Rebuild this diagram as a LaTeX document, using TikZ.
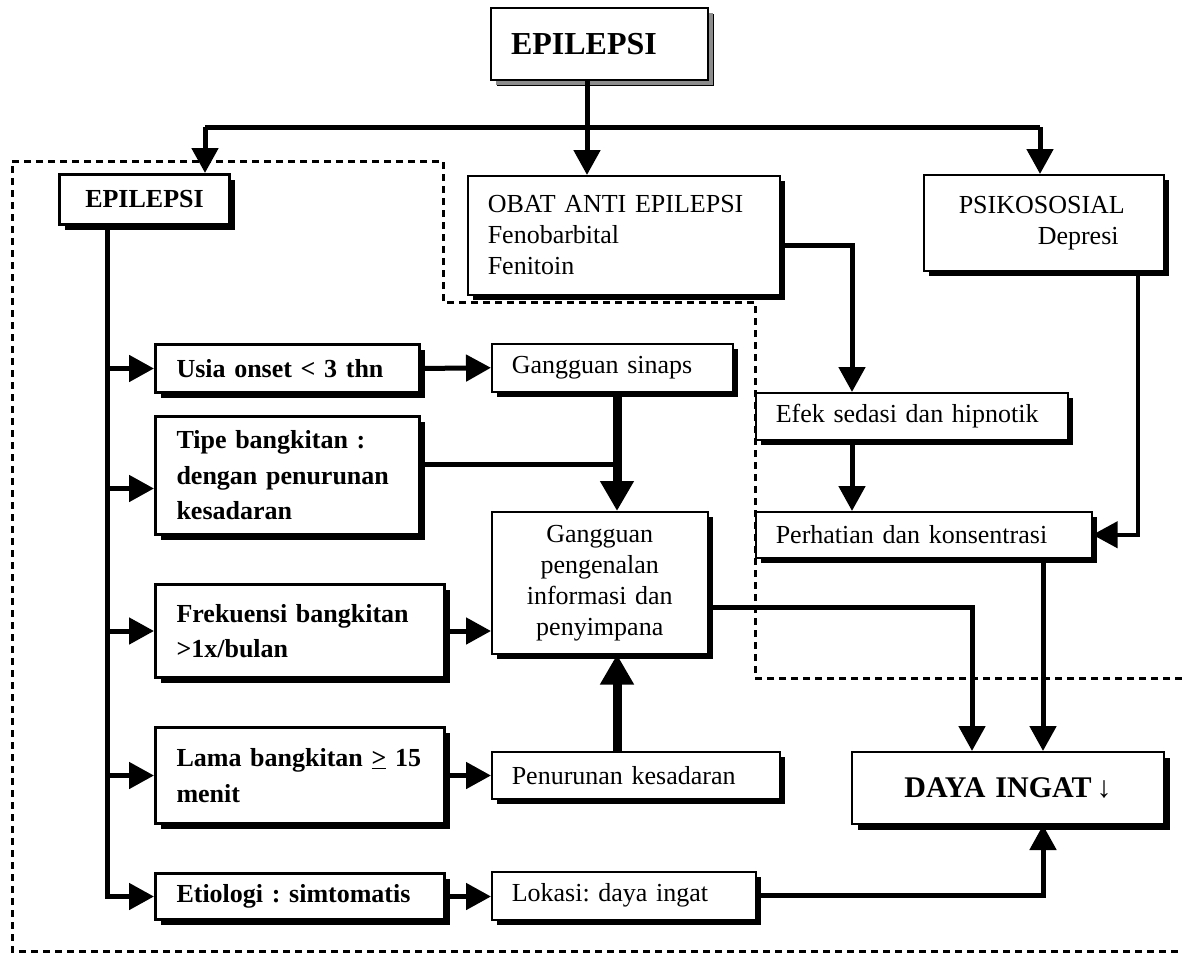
\documentclass[tikz,border=0pt]{standalone}
\usepackage{fontspec}
\setmainfont{Liberation Serif}
\usetikzlibrary{arrows.meta,shadows,calc}
\newcommand\txtn{\frenchspacing\fontsize{26}{31}\selectfont}
\newcommand\txtb{\frenchspacing\fontsize{26}{35.5}\selectfont\bfseries}
\begin{document}
\begin{tikzpicture}[x=1pt,y=-1pt,
  box/.style={draw, fill=white, line width=1.5pt, anchor=north west, inner ysep=0pt,
    drop shadow={shadow xshift=5.5pt, shadow yshift=-5.5pt, fill=black, opacity=1}},
  boldbox/.style={box, line width=3pt, font=\txtb, align=left},
  normbox/.style={box, font=\txtn, align=left},
  conn/.style={line width=5pt},
  arr/.style={conn, -{Triangle[length=25pt,width=26pt]}},
  bigarr/.style={line width=9pt, -{Triangle[length=30pt,width=32pt]}},
  region/.style={line width=3pt, dash pattern=on 7pt off 5pt}
]
\useasboundingbox (0,0) rectangle (1182,953);

% dashed region
\draw[region] (1182,678) -- (755,678) -- (755,302) -- (443,302) -- (443,161) -- (12,161) -- (12,951) -- (1182,951);

% top node
\node[box, line width=2pt, drop shadow={shadow xshift=5pt, shadow yshift=-5pt, fill=black!45, opacity=1},
  minimum width=217pt, minimum height=72pt, text width=177pt, inner xsep=20pt, align=left,
  font=\fontsize{32}{36}\selectfont\bfseries] (top) at (490,7) {EPILEPSI};

% left column
\node[boldbox, minimum width=170pt, minimum height=50pt, text width=128pt, inner xsep=21pt, align=center] (epi) at (58,173) {EPILEPSI};
\node[boldbox, minimum width=264pt, minimum height=48pt, text width=222pt, inner xsep=21pt] (usia) at (154,343) {Usia onset < 3 thn};
\node[boldbox, minimum width=264pt, minimum height=118pt, text width=222pt, inner xsep=21pt] (tipe) at (154,415) {Tipe bangkitan :\\dengan penurunan\\kesadaran};
\node[boldbox, minimum width=289pt, minimum height=93pt, text width=247pt, inner xsep=21pt] (frek) at (154,583) {Frekuensi bangkitan\\>1x/bulan};
\node[boldbox, minimum width=289pt, minimum height=96pt, text width=247pt, inner xsep=21pt] (lama) at (154,726) {Lama bangkitan \underline{>} 15\\menit};
\node[boldbox, minimum width=289pt, minimum height=46pt, text width=247pt, inner xsep=21pt] (etio) at (154,872) {Etiologi : simtomatis};

% middle column
\node[normbox, minimum width=312pt, minimum height=119pt, text width=272pt, inner xsep=20pt] (obat) at (467,175) {OBAT ANTI EPILEPSI\\Fenobarbital\\Fenitoin};
\node[normbox, minimum width=241pt, minimum height=48pt, text width=201pt, inner xsep=20pt] (sinaps) at (491,343) {Gangguan sinaps};
\node[normbox, minimum width=216pt, minimum height=142pt, text width=196pt, inner xsep=10pt, align=center] (peng) at (491,511) {Gangguan\\pengenalan\\informasi dan\\penyimpana};
\node[normbox, minimum width=288pt, minimum height=47pt, text width=248pt, inner xsep=20pt] (penur) at (491,751) {Penurunan kesadaran};
\node[normbox, minimum width=264pt, minimum height=48pt, text width=224pt, inner xsep=20pt] (lokasi) at (491,871) {Lokasi: daya ingat};

% right column
\node[normbox, minimum width=240pt, minimum height=96pt, text width=170pt, inner xsep=35pt] (psiko) at (923,174) {PSIKOSOSIAL\\\hspace*{79pt}Depresi};
\node[normbox, minimum width=312pt, minimum height=47pt, text width=272pt, inner xsep=20pt] (efek) at (755,392) {Efek sedasi dan hipnotik};
\node[normbox, minimum width=336pt, minimum height=46pt, text width=296pt, inner xsep=20pt] (perh) at (755,511) {Perhatian dan konsentrasi};
\node[box, line width=2pt, minimum width=312pt, minimum height=72pt, text width=292pt, inner xsep=10pt, align=center,
  font=\frenchspacing\fontsize{30}{34}\selectfont\bfseries] (daya) at (851,751) {DAYA INGAT\,↓};

% helper coordinates
\coordinate (hub) at (587,127);
\coordinate (bl) at (205,127);
\coordinate (br) at (1040,127);
\coordinate (tk) at (107,0);
\coordinate (vx) at (617,0);
\coordinate (ex) at (852,0);
\coordinate (dl) at (972,0);
\coordinate (dr) at (1043,0);
\coordinate (px) at (1138,0);
\coordinate (tipein) at ($(tipe.west)+(0,13)$);
\coordinate (tipeout) at ($(tipe.east)+(0,-11)$);
\coordinate (pengout) at ($(peng.east)+(0,25)$);
\coordinate (obatout) at ($(obat.east)+(0,10)$);

% top distribution
\draw[conn] (top.south -| hub) -- (hub);
\draw[conn] (bl) -- (br);
\draw[arr] (bl) -- (bl |- epi.north);
\draw[arr] (hub) -- (hub |- obat.north);
\draw[arr] (br) -- (br |- psiko.north);

% trunk
\draw[arr] (epi.south -| tk) |- (etio.west);
\draw[arr] (usia.west -| tk) -- (usia.west);
\draw[arr] (tipein -| tk) -- (tipein);
\draw[arr] (frek.west -| tk) -- (frek.west);
\draw[arr] (lama.west -| tk) -- (lama.west);

% left to middle
\draw[arr] (usia.east) -- (sinaps.west);
\draw[arr] (frek.east) -- (frek.east -| peng.west);
\draw[arr] (lama.east) -- (lama.east -| penur.west);
\draw[arr] (etio.east) -- (etio.east -| lokasi.west);
\draw[conn] (tipeout) -- (tipeout -| vx);
\draw[bigarr] (sinaps.south -| vx) -- (peng.north -| vx);
\draw[bigarr] (penur.north -| vx) -- (peng.south -| vx);

% to DAYA INGAT
\draw[arr] (pengout) -| (daya.north -| dl);
\draw[arr] (lokasi.east) -| (daya.south -| dr);
\draw[arr] (perh.south -| dr) -- (daya.north -| dr);

% right column
\draw[arr] (obatout) -| (efek.north -| ex);
\draw[arr] (efek.south -| ex) -- (perh.north -| ex);
\draw[line width=4pt, -{Triangle[length=25pt,width=26pt]}] (psiko.south -| px) |- (perh.east);
\end{tikzpicture}
\end{document}
